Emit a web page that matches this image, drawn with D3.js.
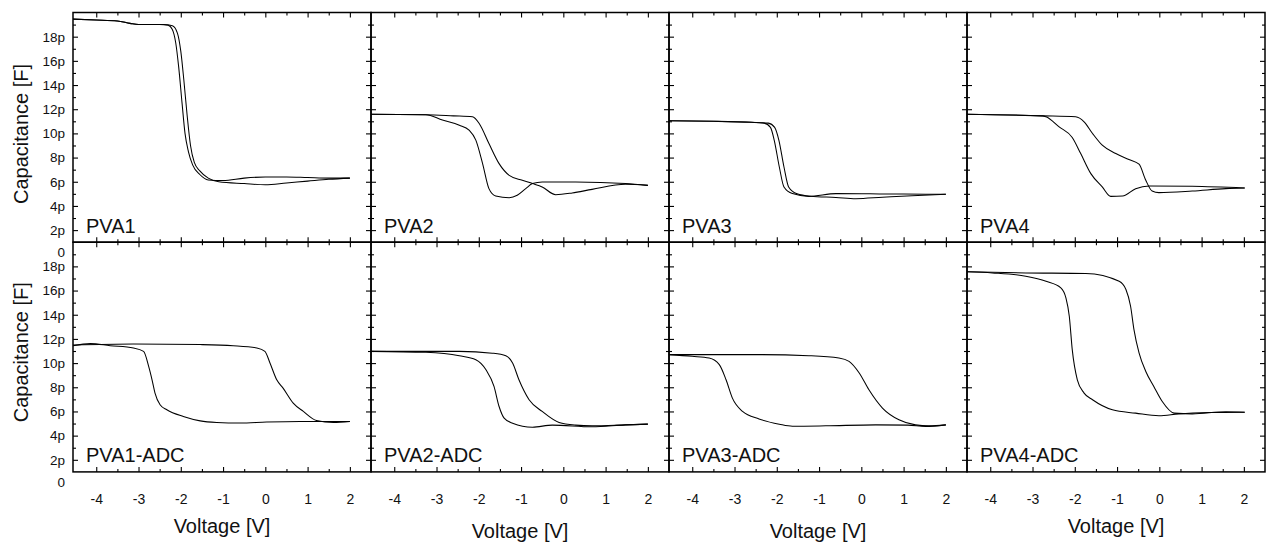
<!DOCTYPE html>
<html>
<head>
<meta charset="utf-8">
<script src="https://cdn.jsdelivr.net/npm/d3@7/dist/d3.min.js"></script>
<style>
  html, body { margin: 0; padding: 0; background: #fff; }
  svg { display: block; }
  text { font-family: "Liberation Sans", Arial, sans-serif; fill: #111; }
</style>
</head>
<body>
<svg id="chart" width="1266" height="543"></svg>
<script>
// C–V hysteresis sweeps, [voltage (V), capacitance (pF)]
const pva1Fwd = [[-4.55,19.45],[-4,19.38],[-3.5,19.3],[-3.2,19.1],[-3,19.0],[-2.5,19.0],[-2.3,18.95],[-2.2,18.6],[-2.12,17.5],[-2.05,15.5],[-1.97,12.5],[-1.9,10],[-1.82,8.5],[-1.72,7.4],[-1.55,6.6],[-1.35,6.15],[-1.0,6.1],[-0.5,6.3],[0,6.4],[0.5,6.4],[1,6.35],[1.5,6.3],[2,6.3]];
const pva1Rev = [[-4.55,19.45],[-4,19.38],[-3.5,19.3],[-3.2,19.1],[-3,19.0],[-2.4,19.0],[-2.2,18.9],[-2.08,18.3],[-2.0,16.8],[-1.93,14.5],[-1.85,11.5],[-1.77,9.0],[-1.68,7.6],[-1.55,6.9],[-1.35,6.3],[-1.1,6.0],[-0.5,5.85],[0,5.75],[0.5,5.9],[1,6.05],[1.5,6.2],[2,6.3]];

const pva2Fwd = [[-4.55,11.59],[-3.25,11.55],[-2.6,11.45],[-2.15,11.37],[-1.99,10.82],[-1.76,9.16],[-1.52,7.5],[-1.28,6.53],[-0.97,6.12],[-0.73,5.85],[-0.5,5.57],[-0.18,4.93],[0.21,5.07],[0.68,5.37],[1.47,5.79],[2.0,5.7]];
const pva2Rev = [[-4.55,11.59],[-3.25,11.55],[-2.86,11.1],[-2.46,10.68],[-2.23,10.27],[-2.07,9.44],[-1.91,7.5],[-1.76,5.43],[-1.6,4.82],[-1.28,4.68],[-1.09,4.88],[-0.89,5.43],[-0.73,5.85],[-0.5,5.98],[0.29,5.98],[1.47,5.85],[2.0,5.7]];

const pva3Fwd = [[-4.55,11.04],[-3.5,11.0],[-2.6,10.92],[-2.3,10.85],[-2.15,10.5],[-2.06,9.43],[-1.94,7.22],[-1.83,5.57],[-1.63,5.02],[-1.24,4.79],[-0.6,5.02],[0.2,5.0],[1.0,4.98],[2.0,4.96]];
const pva3Rev = [[-4.55,11.04],[-3.5,11.0],[-2.6,10.92],[-2.2,10.85],[-2.05,10.5],[-1.95,9.43],[-1.83,7.22],[-1.72,5.57],[-1.52,5.0],[-1.2,4.8],[-0.6,4.7],[-0.13,4.6],[0.5,4.72],[1.2,4.85],[2.0,4.96]];

const pva4Fwd = [[-4.55,11.59],[-2.76,11.45],[-1.98,11.37],[-1.78,10.96],[-1.58,9.99],[-1.35,9.02],[-1.03,8.33],[-0.72,7.84],[-0.48,7.45],[-0.32,6.12],[-0.17,5.23],[-0.01,5.1],[0.78,5.23],[1.57,5.43],[2.02,5.48]];
const pva4Rev = [[-4.55,11.59],[-2.76,11.45],[-2.68,11.37],[-2.37,10.54],[-2.06,9.66],[-1.86,8.33],[-1.62,6.67],[-1.35,5.57],[-1.15,4.79],[-0.87,4.82],[-0.56,5.43],[-0.24,5.65],[0.78,5.62],[2.02,5.48]];

const pva1AdcFwd = [[-4.55,11.5],[-3.12,11.58],[-1.54,11.53],[-0.76,11.44],[-0.2,11.25],[-0.01,10.97],[0.11,10.01],[0.27,8.62],[0.42,7.93],[0.66,6.69],[0.9,6.0],[1.21,5.25],[1.61,5.09],[2.0,5.17]];
const pva1AdcRev = [[-4.55,11.44],[-4.14,11.61],[-3.67,11.44],[-3.12,11.25],[-2.88,10.97],[-2.76,9.73],[-2.68,8.62],[-2.61,7.52],[-2.49,6.55],[-2.33,6.14],[-1.94,5.58],[-1.54,5.22],[-1.15,5.09],[-0.6,5.04],[0.03,5.12],[0.82,5.17],[2.0,5.17]];

const pva2AdcFwd = [[-4.55,10.97],[-2.46,10.97],[-1.68,10.82],[-1.36,10.61],[-1.2,10.0],[-1.05,8.62],[-0.81,6.97],[-0.5,6.0],[-0.1,5.09],[0.29,4.87],[0.68,4.81],[1.47,4.89],[2.0,4.95]];
const pva2AdcRev = [[-4.55,10.97],[-3.25,10.89],[-2.46,10.61],[-2.07,10.28],[-1.83,9.45],[-1.64,8.07],[-1.52,6.41],[-1.4,5.45],[-1.2,5.03],[-0.73,4.7],[-0.26,4.87],[0.68,4.73],[1.47,4.89],[2.0,4.95]];

const pva3AdcFwd = [[-4.55,10.7],[-2.42,10.7],[-1.24,10.61],[-0.53,10.42],[-0.29,10.14],[-0.05,9.18],[0.18,7.79],[0.5,6.28],[0.89,5.31],[1.28,4.89],[1.6,4.81],[2.0,4.89]];
const pva3AdcRev = [[-4.55,10.7],[-4.0,10.56],[-3.6,10.42],[-3.36,9.87],[-3.2,8.62],[-3.05,7.1],[-2.81,6.0],[-2.42,5.38],[-1.94,4.95],[-1.63,4.78],[-0.84,4.81],[0.34,4.89],[1.1,4.87],[1.52,4.75],[2.0,4.89]];

const pva4AdcFwd = [[-4.55,17.55],[-3.16,17.46],[-1.74,17.41],[-0.95,16.77],[-0.79,16.09],[-0.68,14.7],[-0.6,12.77],[-0.48,10.84],[-0.32,9.31],[-0.13,8.07],[0.07,6.82],[0.35,5.86],[0.78,5.8],[1.57,5.97],[2.02,5.94]];
const pva4AdcRev = [[-4.55,17.55],[-3.95,17.46],[-3.16,17.19],[-2.68,16.77],[-2.33,16.23],[-2.21,15.4],[-2.13,13.88],[-2.06,11.11],[-1.94,8.62],[-1.78,7.52],[-1.58,6.97],[-1.11,6.14],[-0.56,5.86],[-0.01,5.64],[0.46,5.8],[1.17,5.91],[2.02,5.94]];

const panelNames = ["PVA1","PVA2","PVA3","PVA4","PVA1-ADC","PVA2-ADC","PVA3-ADC","PVA4-ADC"];
const panelSweeps = [
  [pva1Fwd, pva1Rev], [pva2Fwd, pva2Rev], [pva3Fwd, pva3Rev], [pva4Fwd, pva4Rev],
  [pva1AdcFwd, pva1AdcRev], [pva2AdcFwd, pva2AdcRev], [pva3AdcFwd, pva3AdcRev], [pva4AdcFwd, pva4AdcRev]
];
const xTickValues = [-4, -3, -2, -1, 0, 1, 2];
const xMinorValues = [-4, -3.5, -3, -2.5, -2, -1.5, -1, -0.5, 0, 0.5, 1, 1.5, 2];
const yLabelValues = [0, 2, 4, 6, 8, 10, 12, 14, 16, 18];
const yMinorValues = [2, 3, 4, 5, 6, 7, 8, 9, 10, 11, 12, 13, 14, 15, 16, 17, 18, 19];
const xDomain = [-4.55, 2.5];
const yDomain = [1, 20];
const xTitle = "Voltage [V]";
const yTitle = "Capacitance [F]";

// grid layout of the 2 x 4 panels
const marginLeft = 73, marginTop = 12.5, pw = 298, ph = 229.7;
const svg = d3.select("#chart");

const x = d3.scaleLinear().domain(xDomain).range([0, pw]);
const y = d3.scaleLinear().domain(yDomain).range([ph, 0]);
const line = d3.line().x(d => x(d[0])).y(d => y(d[1])).curve(d3.curveMonotoneX);

svg.append("defs").append("clipPath").attr("id", "plotClip")
  .append("rect").attr("x", 0).attr("y", 0).attr("width", pw).attr("height", ph);

const fontFamily = '"Liberation Sans", Arial, sans-serif';
const xTickLen = v => Number.isInteger(v) ? 5 : 3;
const yTickLen = v => v % 2 === 0 ? 5 : 3;
const tickStyle = sel => {
  sel.select(".domain").remove();
  sel.selectAll("line").attr("stroke", "#000").attr("stroke-width", 1.1);
};

panelNames.forEach((name, i) => {
  const col = i % 4, row = Math.floor(i / 4);
  const g = svg.append("g").attr("transform", `translate(${marginLeft + col * pw},${marginTop + row * ph})`);

  // both sweep directions
  const plot = g.append("g").attr("clip-path", "url(#plotClip)");
  panelSweeps[i].forEach(sweep => {
    plot.append("path").attr("d", line(sweep))
      .attr("fill", "none").attr("stroke", "#000").attr("stroke-width", 1.05);
  });

  // inward ticks on all four edges
  [["top", 0], ["bottom", ph]].forEach(([side, ty]) => {
    const ax = g.append("g").attr("transform", `translate(0,${ty})`);
    const axis = (side === "top" ? d3.axisBottom(x) : d3.axisTop(x)).tickValues(xMinorValues).tickFormat("").tickSizeOuter(0);
    ax.call(axis).call(tickStyle);
    ax.selectAll(".tick line").attr("y2", d => (side === "top" ? 1 : -1) * xTickLen(d));
  });
  [["left", 0], ["right", pw]].forEach(([side, tx]) => {
    const ax = g.append("g").attr("transform", `translate(${tx},0)`);
    const axis = (side === "left" ? d3.axisRight(y) : d3.axisLeft(y)).tickValues(yMinorValues).tickFormat("").tickSizeOuter(0);
    ax.call(axis).call(tickStyle);
    ax.selectAll(".tick line").attr("x2", d => (side === "left" ? 1 : -1) * yTickLen(d));
  });

  // frame
  g.append("rect").attr("x", 0).attr("y", 0).attr("width", pw).attr("height", ph)
    .attr("fill", "none").attr("stroke", "#000").attr("stroke-width", 1.5);

  // panel name
  g.append("text").attr("x", 13).attr("y", ph - 9.5)
    .attr("font-size", 20).text(name);

  // capacitance tick labels and title on the left column
  if (col === 0) {
    const ax = g.append("g").attr("transform", "translate(-5,0)");
    ax.call(d3.axisLeft(y).tickValues(yLabelValues).tickSize(0)
      .tickFormat(v => v === 0 ? "0" : v + "p"));
    ax.select(".domain").remove();
    ax.selectAll("text").attr("font-size", 13.5).attr("fill", "#111").style("font-family", fontFamily)
      .attr("dy", d => d === 0 ? "0.2em" : "0.32em");
    g.append("text")
      .attr("transform", `translate(-52,${row === 0 ? 121.5 : 110}) rotate(-90)`)
      .attr("text-anchor", "middle").attr("font-size", 20).attr("dy", "0.35em")
      .text(yTitle);
  }

  // voltage tick labels and title on the bottom row
  if (row === 1) {
    const ax = g.append("g").attr("transform", `translate(0,${ph + 19})`);
    ax.call(d3.axisBottom(x).tickValues(xTickValues).tickSize(0).tickFormat(d => String(d)));
    ax.select(".domain").remove();
    ax.selectAll("text").attr("font-size", 14).attr("fill", "#111").style("font-family", fontFamily);
    const titleBaseline = (col === 1 || col === 2) ? 66 : 61;
    g.append("text").attr("x", pw / 2).attr("y", ph + titleBaseline)
      .attr("text-anchor", "middle").attr("font-size", 20).text(xTitle);
  }
});
</script>
</body>
</html>
